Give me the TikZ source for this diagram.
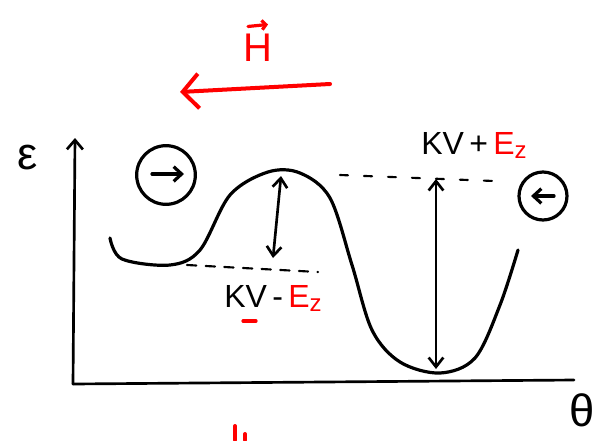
\documentclass[tikz,border=0pt]{standalone}
\usepackage{fontspec}
\setmainfont{Liberation Sans}
\usepackage{xcolor}
\usepackage{tikz}
\usetikzlibrary{arrows.meta,positioning,calc}

\begin{document}
\begin{tikzpicture}[x=0.75pt,y=-0.75pt,line width=2pt,line cap=round,
  every node/.style={font=\fontsize{24}{28}\selectfont},
  big/.style={font=\fontsize{34}{36}\selectfont},
  barb/.style={-{Straight Barb[length=7pt,width=12pt]}},
  dbarb/.style={{Straight Barb[length=7pt,width=11pt]}-{Straight Barb[length=7pt,width=11pt]}},
  spin/.style={circle,draw,line width=2.4pt,minimum size=44pt,inner sep=0pt}]
  \useasboundingbox (0,0) rectangle (603,440);
  % axes
  \coordinate (origin) at (73,384);
  \coordinate (ytop) at (75,138);
  \coordinate (xend) at (574,380);
  \draw[barb] (origin) -- (ytop);
  \draw (origin) -- (xend);
  \node[big] (eps) at (28,158) {ε};
  \node[big] (theta) at (582,410) {θ};
  % energy curve
  \draw[line width=2.4pt] plot[smooth,tension=0.55] coordinates {(110,238) (122,259) (170,265)
    (200,250) (230,195) (268,172) (300,173) (330,198) (352,265) (372,330)
    (400,362) (440,373) (475,358) (500,305) (518,250)};
  % spin states
  \node[spin] (left) at (166,175) {};
  \draw[line width=2.4pt,-{Straight Barb[length=6pt,width=11pt]}] ($(left)+(-14,-1)$) -- ($(left)+(18,-1)$);
  \node[spin,minimum size=36pt] (right) at (543,196) {};
  \draw[line width=2.4pt,-{Straight Barb[length=6pt,width=11pt]}] ($(right)+(11,0)$) -- ($(right)+(-12,0)$);
  % barrier left
  \coordinate (peak) at (281,176);
  \coordinate (min1) at (273,258);
  \draw[dbarb] (peak) -- (min1);
  \coordinate (d1a) at (187,265);
  \coordinate (d1b) at (318,272);
  \draw[dashed,line width=1.6pt,dash pattern=on 7pt off 7pt] (d1a) -- (d1b);
  \node (low) at (273,298) {KV\,-\,\textcolor{red}{E\raisebox{-3pt}{\fontsize{18}{18}\selectfont z}}};
  \draw[red,line width=2.4pt] (243,321) -- (256,321);
  % barrier right
  \coordinate (d2a) at (340,175);
  \coordinate (d2b) at (494,181);
  \draw[dashed,line width=1.6pt,dash pattern=on 6pt off 12pt] (d2a) -- (d2b);
  \coordinate (top2) at (436,179);
  \coordinate (min2) at (436,369);
  \draw[dbarb] (top2) -- (min2);
  \node (high) at (474,145) {KV\,+\,\textcolor{red}{E\raisebox{-3pt}{\fontsize{18}{18}\selectfont z}}};
  % field
  \node[red,font=\fontsize{30}{32}\selectfont] (field) at (258,48) {H};
  \draw[red,line width=2.4pt,-{Straight Barb[length=3pt,width=7pt]}] ($(field.north)+(-10,-2)$) -- ($(field.north)+(10,-4)$);
  \coordinate (fa) at (330,84);
  \coordinate (fb) at (180,92);
  \draw[red,line width=3pt,-{Straight Barb[length=12pt,width=26pt]}] (fa) -- (fb);
  \draw[red,line width=3pt] (235,426) -- (235,440);
  \draw[red,line width=3pt] (245,434) -- (245,440);
\end{tikzpicture}
\end{document}
